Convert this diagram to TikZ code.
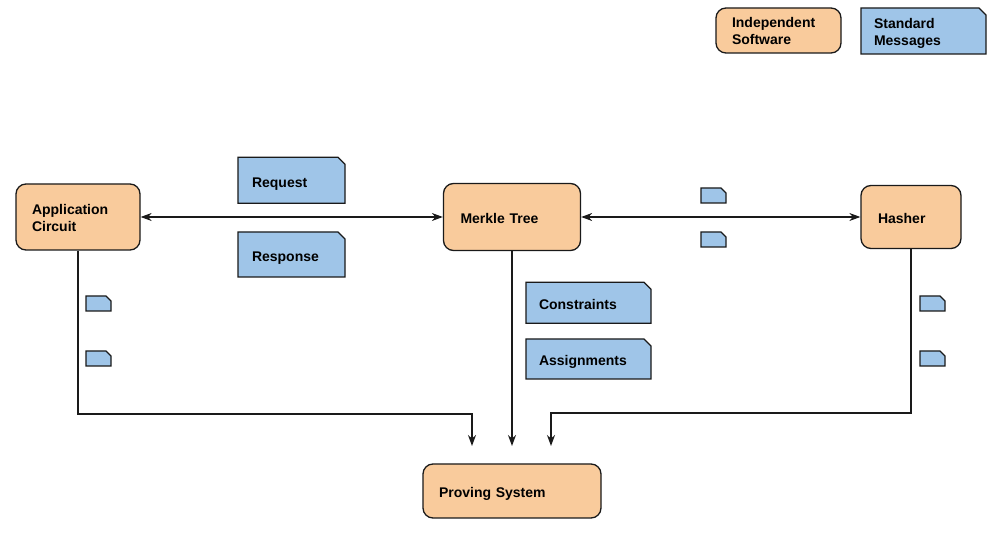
\documentclass[tikz,border=0pt]{standalone}
\usepackage{fontspec}
\setmainfont{Liberation Sans}
\usetikzlibrary{arrows.meta}
\definecolor{swc}{HTML}{F9CB9C}
\definecolor{msgc}{HTML}{9FC5E8}
\definecolor{edgec}{HTML}{1A1A1A}
% message (dog-eared) box: name, x, y, width, height, padding, corner, line style, text
\newcommand\msgnode[9]{%
  \path[msgshape] (#2-#4/2,#3+#5/2) -- (#2-#4/2,#3-#5/2) -- (#2+#4/2-#7,#3-#5/2)
     -- (#2+#4/2,#3-#5/2+#7) -- (#2+#4/2,#3+#5/2) -- cycle;
  \node[msgtext={#4pt}{#5pt}{#6pt},#8] (#1) at (#2,#3) {#9};}
\begin{document}
\begin{tikzpicture}[x=1pt,y=-1pt,
  font=\fontsize{14}{17}\selectfont\bfseries,
  one/.style={text height=14pt,text depth=0pt},
  two/.style={text height=10pt,text depth=15pt},
  swbox/.style n args={3}{draw=edgec, fill=swc, rounded corners=10pt, line width=1.3pt,
    inner xsep=#3, inner ysep=0pt, text width=#1-2*#3, minimum height=#2, align=left, anchor=center},
  msgshape/.style={draw=edgec, fill=msgc, line width=1.3pt},
  msgtext/.style n args={3}{inner xsep=#3, inner ysep=0pt, text width=#1-2*#3, minimum height=#2,
    align=left, anchor=center},
  conn/.style={draw=edgec, line width=1.2pt},
  tip/.style={-{Stealth[length=11pt,width=8pt,inset=3.5pt]}},
  dtip/.style={{Stealth[length=11pt,width=8pt,inset=3.5pt]}-{Stealth[length=11pt,width=8pt,inset=3.5pt]}}
]
\useasboundingbox[fill=white] (0,0) rectangle (989,534);

% legend
\node[swbox={125pt}{45pt}{16pt},two] (ind) at (778.5,30.5) {Independent\\Software};
\msgnode{std}{923.5}{31}{125}{46}{13}{7}{two}{Standard\\Messages}

% main boxes
\node[swbox={124pt}{66pt}{16pt},two] (app) at (78,217) {Application\\Circuit};
\node[swbox={137pt}{67pt}{17pt},one] (mt) at (512,217) {Merkle Tree};
\node[swbox={100pt}{63pt}{17pt},one] (hash) at (911,217) {Hasher};
\node[swbox={178pt}{54pt}{16pt},one] (ps) at (512,491) {Proving System};

% messages
\msgnode{req}{291.5}{180.3}{107}{46}{14}{7}{one}{Request}
\msgnode{resp}{291.5}{254.5}{107}{45}{14}{7}{one}{Response}
\msgnode{cons}{588.5}{302.8}{125}{41}{13}{7}{one}{Constraints}
\msgnode{asg}{588.5}{359}{125}{40}{13}{7}{one}{Assignments}

% small messages
\msgnode{s1}{713.5}{195.5}{25}{15}{0}{5}{}{}
\msgnode{s2}{713.5}{239.5}{25}{15}{0}{5}{}{}
\msgnode{s3}{98.5}{303.5}{25}{15}{0}{5}{}{}
\msgnode{s4}{98.5}{358.5}{25}{15}{0}{5}{}{}
\msgnode{s5}{932.5}{303.5}{25}{15}{0}{5}{}{}
\msgnode{s6}{932.5}{358.5}{25}{15}{0}{5}{}{}

% connectors
\draw[conn,dtip] (app.east) -- (mt.west);
\draw[conn,dtip] (mt.east) -- (hash.west);

\coordinate (ja) at (472,414);
\coordinate (pa) at (472,446);
\coordinate (pm) at (512,446);
\coordinate (jh) at (551,413);
\coordinate (ph) at (551,446);

\draw[conn,tip] (app.south) |- (ja) -- (pa);
\draw[conn,tip] (mt.south) -- (pm);
\draw[conn,tip] (hash.south) |- (jh) -- (ph);
\end{tikzpicture}
\end{document}
